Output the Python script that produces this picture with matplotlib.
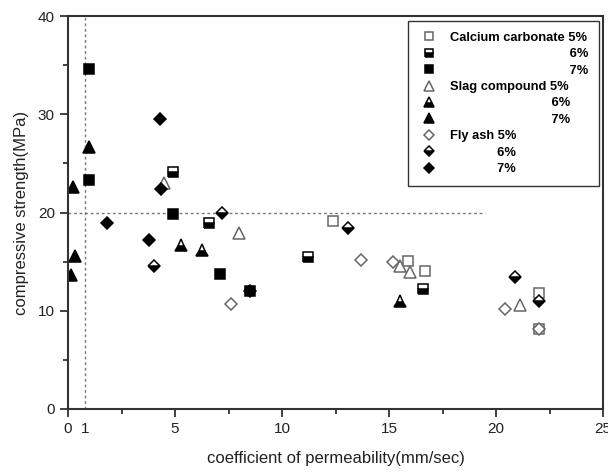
import matplotlib
matplotlib.use('Agg')
import matplotlib.pyplot as plt
from matplotlib.font_manager import FontProperties

plt.rcParams['font.family'] = ['Liberation Sans', 'DejaVu Sans']

# calcium carbonate
cc5_x = [12.4, 15.9, 16.7, 22.0, 22.0]
cc5_y = [19.1, 15.1, 14.0, 11.8, 8.1]
cc6_x = [4.9, 6.6, 11.2, 16.6]
cc6_y = [24.1, 18.9, 15.5, 12.2]
cc7_x = [1.0, 1.0, 4.9, 7.1, 8.5]
cc7_y = [34.6, 23.3, 19.8, 13.7, 12.0]
# slag compound
sl5_x = [4.5, 8.0, 15.5, 16.0, 21.1]
sl5_y = [23.0, 17.9, 14.6, 13.9, 10.6]
sl6_x = [5.3, 6.25, 15.5]
sl6_y = [16.7, 16.2, 11.0]
sl7_x = [0.25, 1.0, 0.35, 0.15]
sl7_y = [22.6, 26.7, 15.6, 13.6]
# fly ash
fa5_x = [7.6, 13.7, 15.2, 20.4, 22.0]
fa5_y = [10.7, 15.2, 15.0, 10.2, 8.1]
fa6_x = [4.0, 7.2, 13.1, 20.9, 22.0]
fa6_y = [14.6, 20.0, 18.4, 13.4, 11.0]
fa7_x = [1.8, 3.8, 4.35, 4.3, 8.5]
fa7_y = [18.9, 17.2, 22.4, 29.5, 12.0]

xticks = [0, 0.8, 5, 10, 15, 20, 25]
xticklabels = ['0', '1', '5', '10', '15', '20', '25']

fig = plt.figure(figsize=(6.08, 4.75), dpi=100)
ax = fig.add_axes([68/608, 1-409/475, (603-68)/608, (409-16)/475])

# reference lines
ax.plot([0, 19.5], [20, 20], ls=(0, (2, 2)), color='#777777', lw=1)
ax.axvline(0.8, ls=(0, (2, 2)), color='#777777', lw=1)


def draw(x, y, marker, kind, label, ms):
    if kind == 'open':
        ax.plot(x, y, ls='none', marker=marker, ms=ms, mfc='white',
                mec='#666666', mew=1.1, label=label)
    elif kind == 'half':
        ax.plot(x, y, ls='none', marker=marker, ms=ms, fillstyle='bottom',
                mfc='black', mfcalt='white', mec='black', mew=1.1, label=label)
    else:
        ax.plot(x, y, ls='none', marker=marker, ms=ms, mfc='black',
                mec='black', mew=1.1, label=label)


fp = FontProperties(family='Liberation Sans', weight='bold', size=9.3)
renderer = fig.canvas.get_renderer()


def text_w(s):
    t = fig.text(0, 0, s, fontproperties=fp)
    w = t.get_window_extent(renderer).width
    t.remove()
    return w


def pad(prefix):
    sp = text_w('X X') - text_w('XX')
    n = round((text_w(prefix + '5%') - text_w('5%')) / sp)
    return ' ' * n


p_cc = pad('Calcium carbonate ')
p_sl = pad('Slag compound ')
p_fa = pad('Fly ash ')

draw(cc5_x, cc5_y, 's', 'open', 'Calcium carbonate 5%', 6.5)
draw(cc6_x, cc6_y, 's', 'half', p_cc + '6%', 6.5)
draw(cc7_x, cc7_y, 's', 'full', p_cc + '7%', 6.5)
draw(sl5_x, sl5_y, '^', 'open', 'Slag compound 5%', 8)
draw(sl6_x, sl6_y, '^', 'half', p_sl + '6%', 8)
draw(sl7_x, sl7_y, '^', 'full', p_sl + '7%', 8)
draw(fa5_x, fa5_y, 'D', 'open', 'Fly ash 5%', 6.5)
draw(fa6_x, fa6_y, 'D', 'half', p_fa + '6%', 6.5)
draw(fa7_x, fa7_y, 'D', 'full', p_fa + '7%', 6.5)

ax.set_xlim(0, 25)
ax.set_ylim(0, 40)
ax.set_xticks(xticks)
ax.set_xticklabels(xticklabels)
ax.set_xticks([2.5, 7.5, 12.5, 17.5, 22.5], minor=True)
ax.set_yticks([0, 10, 20, 30, 40])
ax.set_yticks([5, 15, 25, 35], minor=True)
ax.xaxis.get_major_ticks()[1].tick1line.set_visible(False)
ax.tick_params(which='major', direction='out', length=6, width=1.3,
               colors='#333333', labelsize=11, labelcolor='#222222')
ax.tick_params(which='minor', direction='out', length=3.5, width=1.3,
               colors='#333333')
for s in ax.spines.values():
    s.set_linewidth(1.5)
    s.set_color('#333333')

ax.set_xlabel('coefficient of permeability(mm/sec)', fontsize=12,
              color='#222222', labelpad=11)
ax.set_ylabel('compressive strength(MPa)', fontsize=12, color='#222222',
              labelpad=6)

leg = ax.legend(loc='upper right', bbox_to_anchor=(0.993, 0.988),
                borderaxespad=0, prop=fp, fancybox=False, framealpha=1,
                edgecolor='#333333', handlelength=1.6, borderpad=0.85,
                handletextpad=0.8, labelspacing=0.34, markerscale=0.85,
                numpoints=1)
leg.get_frame().set_linewidth(1.0)

fig.savefig('out.png', dpi=100)
